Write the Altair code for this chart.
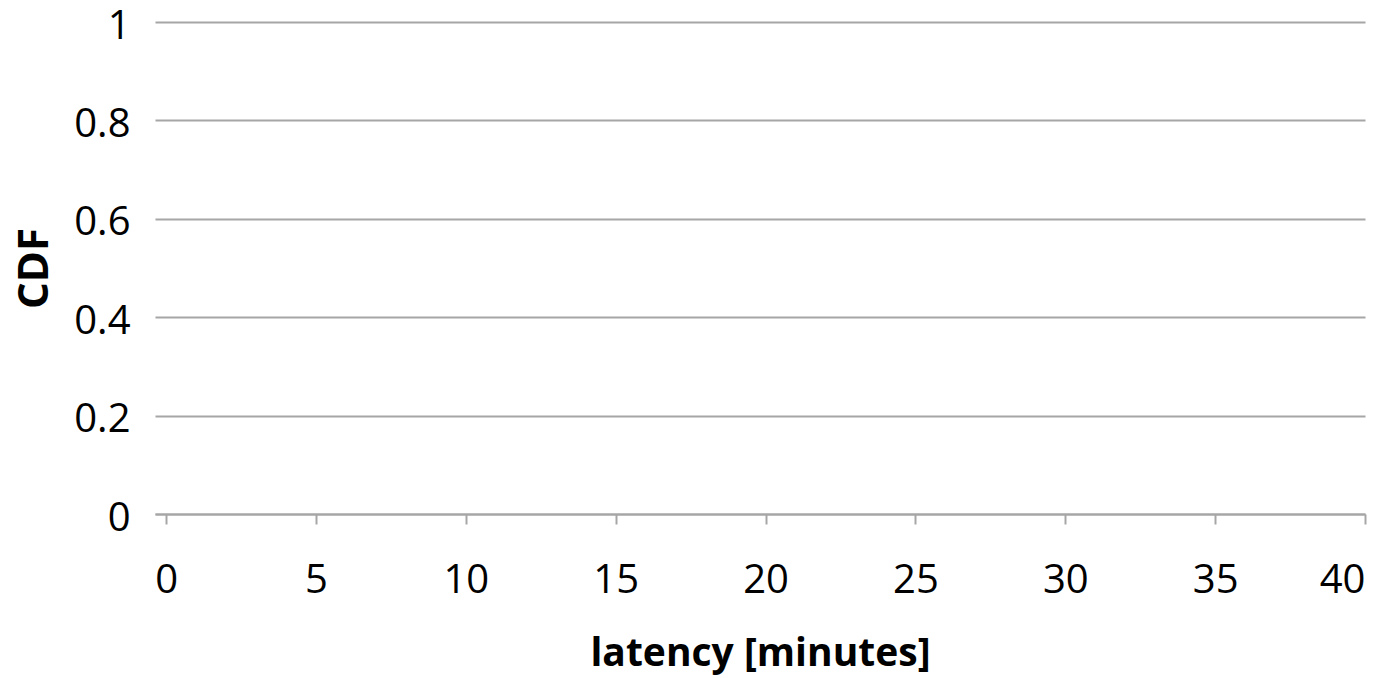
import altair as alt
import pandas as pd

# Axis ticks for the latency CDF plot
x_ticks = [0, 5, 10, 15, 20, 25, 30, 35, 40]
y_ticks = [0, 0.2, 0.4, 0.6, 0.8, 1]

# No series values: the plot shows only the empty frame
latency = []
cdf = []

df = pd.DataFrame({"latency": pd.Series(latency, dtype=float),
                   "cdf": pd.Series(cdf, dtype=float)})

FONT = "Open Sans"
GRID = "#a6a6a6"

chart = alt.Chart(df).mark_line(color="#4472c4").encode(
    x=alt.X(
        "latency:Q",
        scale=alt.Scale(domain=[-0.37, 40], nice=False, zero=False),
        axis=alt.Axis(
            values=x_ticks,
            title="latency [minutes]",
            grid=False,
            domainColor=GRID,
            domainWidth=2,
            tickColor=GRID,
            tickWidth=2,
            tickSize=10,
            labelPadding=36,
            labelFontSize=40,
            labelFont=FONT,
            labelColor="black",
            titleFont=FONT,
            titleFontSize=39,
            titleFontWeight="bold",
            titleColor="black",
            titlePadding=34,
        ),
    ),
    y=alt.Y(
        "cdf:Q",
        scale=alt.Scale(domain=[0, 1], nice=False),
        axis=alt.Axis(
            values=y_ticks,
            format="~g",
            title="CDF",
            domain=False,
            ticks=False,
            gridColor=GRID,
            gridWidth=2,
            labelPadding=25,
            labelOffset=4,
            labelFontSize=40,
            labelFont=FONT,
            labelColor="black",
            titleFont=FONT,
            titleFontSize=42,
            titleFontWeight="bold",
            titleColor="black",
            titlePadding=17,
        ),
    ),
).properties(
    width=1210,
    height=492,
    autosize="none",
    padding={"left": 155, "top": 22, "right": 30, "bottom": 164},
).configure_view(stroke=None)

chart.save("out.html", embed_options={"renderer": "svg", "actions": False})
